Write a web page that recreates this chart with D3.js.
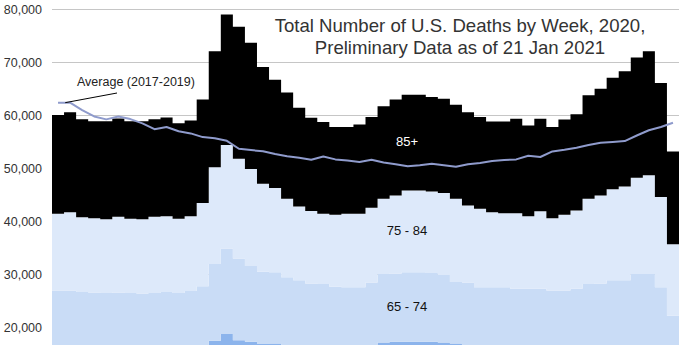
<!DOCTYPE html>
<html>
<head>
<meta charset="utf-8">
<script src="https://cdn.jsdelivr.net/npm/d3@7"></script>
<style>
  html, body { margin: 0; padding: 0; background: #fff; }
  svg { display: block; font-family: Arial, "Liberation Sans", sans-serif; }
</style>
</head>
<body>
<svg id="chart" width="690" height="345"></svg>
<script>
// Weeks of 2020 (1..52)
const weeks = d3.range(1, 53);

// Deaths per week by age group
const under65 = [15500,15600,15300,15200,15200,15300,15200,15100,15200,15300,15200,15400,
  16300,17500,18800,17600,17300,16900,17000,16500,16200,16100,16000,15900,15900,15900,
  16300,17200,17300,17300,17300,17300,17200,17000,16500,16300,16100,16000,16000,15900,
  15900,15800,15900,16000,16200,16300,16300,16400,16300,16200,15800,13000];
const age65to74 = [11500,11400,11400,11400,11300,11300,11300,11300,11300,11400,11300,11500,
  11500,14500,16100,15400,14300,13600,13400,13000,12700,12200,12200,11800,11700,11700,
  12200,12900,12900,13100,13100,13000,12700,11600,12000,11300,11500,11600,11300,11400,
  11400,11200,11100,11300,12000,12000,12600,12500,13800,13900,11800,9200];
const age75to84 = [14450,14750,14100,14000,13900,14300,14000,14000,14400,14300,14000,14100,
  15700,18200,19500,18800,18300,16600,15900,14800,13900,13650,13250,13550,13850,13850,
  14100,14200,14700,15450,15450,15350,15450,15700,14500,14800,14150,13950,14250,13700,
  14600,13600,14250,14750,16100,16600,17150,17700,18150,18600,17000,13500];
const age85plus = [18600,18850,18450,18300,18500,18500,18400,18500,18350,18600,18000,18050,
  19500,21900,24600,24900,23800,22000,20400,20000,18650,17600,17300,16550,16350,16850,
  17100,17400,18100,18050,18050,17800,17800,17700,17600,17300,17100,17300,17800,17100,
  17450,17200,17950,18150,19500,20100,21050,21700,22650,23400,21500,17500];
// Average total deaths per week, 2017-2019
const average = [62400,62400,61000,59800,59250,59800,59300,58500,57400,57800,57000,56600,
  55900,55700,55200,53700,53450,53250,52700,52300,52000,51650,52250,51700,51500,51200,
  51650,51100,50800,50400,50600,50900,50600,50300,50800,51000,51400,51600,51700,52400,
  52150,53200,53500,53900,54400,54850,55000,55150,56200,57200,57800,58600];

const seriesKeys = ["Under 65", "65 - 74", "75 - 84", "85+"];
const seriesColors = ["#8cb4ec", "#c9dcf6", "#dde9fa", "#000000"];
const yTicks = [20000, 30000, 40000, 50000, 60000, 70000, 80000];
const titleLines = ["Total Number of U.S. Deaths by Week, 2020,", "Preliminary Data as of 21 Jan 2021"];

const rows = weeks.map((w, i) => ({
  week: w,
  "Under 65": under65[i],
  "65 - 74": age65to74[i],
  "75 - 84": age75to84[i],
  "85+": age85plus[i]
}));

const svg = d3.select("#chart");
const x = d3.scaleLinear().domain([0, weeks.length]).range([52, 679]);
const y = d3.scaleLinear().domain([0, 80000]).range([433.6, 9.3]);

// gridlines
svg.append("g").selectAll("line").data(yTicks).join("line")
  .attr("x1", 52).attr("x2", 679)
  .attr("y1", d => Math.round(y(d)) + 0.5).attr("y2", d => Math.round(y(d)) + 0.5)
  .attr("stroke", "#c6c6c6").attr("stroke-width", 1);

// y labels
svg.append("g").selectAll("text").data(yTicks).join("text")
  .attr("x", 42).attr("y", d => y(d))
  .attr("dy", "0.35em")
  .attr("text-anchor", "end")
  .attr("font-size", 12.5)
  .attr("fill", "#333")
  .text(d => d3.format(",")(d));

// stacked step areas
const stacked = d3.stack().keys(seriesKeys)(rows);
const area = d3.area()
  .x(d => x(d.i))
  .y0(d => y(d.v[0]))
  .y1(d => y(d.v[1]))
  .curve(d3.curveStepAfter);

svg.append("g").selectAll("path").data(stacked).join("path")
  .attr("fill", (d, k) => seriesColors[k])
  .attr("d", s => {
    const pts = s.map((v, i) => ({ i, v }));
    pts.push({ i: s.length, v: s[s.length - 1] });
    return area(pts);
  });

// average line
const line = d3.line()
  .x((d, i) => x(i + 0.5))
  .y(d => y(d))
  .curve(d3.curveLinear);
svg.append("path")
  .attr("d", line(average))
  .attr("fill", "none")
  .attr("stroke", "#8f9bcc")
  .attr("stroke-width", 2)
  .attr("stroke-linejoin", "round");

// annotation
svg.append("line")
  .attr("x1", x(1.1)).attr("y1", y(average[1]))
  .attr("x2", 117).attr("y2", 93)
  .attr("stroke", "#000").attr("stroke-width", 1);
svg.append("text")
  .attr("x", 77).attr("y", 86)
  .attr("font-size", 12.5)
  .attr("fill", "#222")
  .text("Average (2017-2019)");

// series labels
const labelData = [
  { t: "85+", c: "#fff" },
  { t: "75 - 84", c: "#111" },
  { t: "65 - 74", c: "#111" }
];
svg.append("g").selectAll("text").data(labelData).join("text")
  .attr("x", 407).attr("y", (d, i) => [141.7, 230.5, 306][i])
  .attr("dy", "0.35em")
  .attr("text-anchor", "middle")
  .attr("font-size", 13)
  .attr("fill", d => d.c)
  .text(d => d.t);

// title
svg.append("g").selectAll("text").data(titleLines).join("text")
  .attr("x", 460).attr("y", (d, i) => 32.3 + i * 21.3)
  .attr("text-anchor", "middle")
  .attr("font-size", 18.6)
  .attr("fill", "#333")
  .text(d => d);
</script>
</body>
</html>
